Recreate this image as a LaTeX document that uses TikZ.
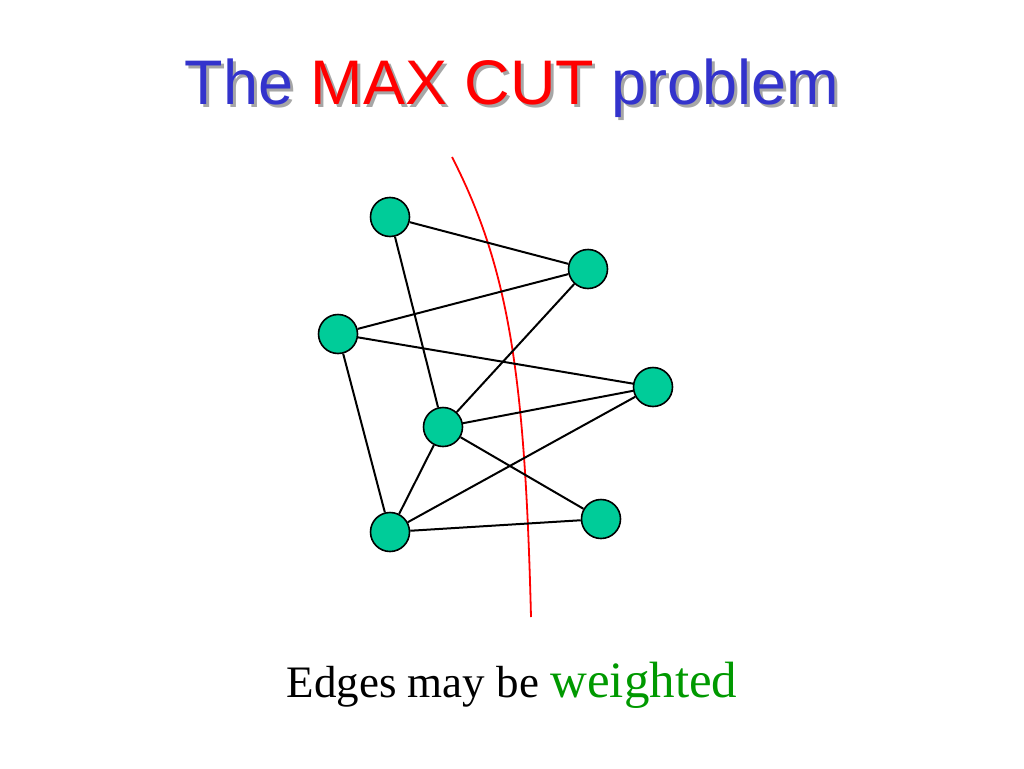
\documentclass[tikz,border=0pt]{standalone}
\usepackage{fontspec}
\setmainfont{Liberation Serif}
\newfontfamily\arialf{Liberation Sans}
\definecolor{tblue}{RGB}{51,51,204}
\definecolor{vgreen}{RGB}{0,204,153}
\definecolor{wgreen}{RGB}{0,153,0}
\begin{document}
\begin{tikzpicture}[x=1pt,y=-1pt,
  vert/.style={circle,draw=black,fill=vgreen,line width=1.6pt,minimum size=39pt,inner sep=0pt},
  edge/.style={line width=2pt}]
\useasboundingbox (0,0) rectangle (1024,768);
\node (sh) [text=gray!70,font=\arialf\fontsize{63}{68}\selectfont] at (515,91) {The MAX CUT problem};
\node (t) [font=\arialf\fontsize{63}{68}\selectfont] at (512,88) {\textcolor{tblue}{The} \textcolor{red}{MAX CUT} \textcolor{tblue}{problem}};
\coordinate (c1) at (452,157);
\coordinate (c2) at (531,617);
\draw[red,line width=1.8pt] (c1) .. controls (510,270) and (525,380) .. (c2);
\foreach \a/\b in {A/B,A/E,C/B,C/D,C/F,B/E,E/D,E/G,F/D,F/G,F/E}
  {}
\node[vert] (A) at (390,217) {};
\node[vert] (B) at (588,269) {};
\node[vert] (C) at (338,334) {};
\node[vert] (D) at (653,387) {};
\node[vert] (E) at (443,427) {};
\node[vert] (F) at (390,532) {};
\node[vert] (G) at (601,519) {};
\foreach \a/\b in {A/B,A/E,C/B,C/D,C/F,B/E,E/D,E/G,F/D,F/G,F/E}
  \draw[edge] (\a) -- (\b);
\node (cap) at (512,685) {\fontsize{45}{50}\selectfont Edges may be \textcolor{wgreen}{\fontsize{51}{55}\selectfont weighted}};
\end{tikzpicture}
\end{document}
